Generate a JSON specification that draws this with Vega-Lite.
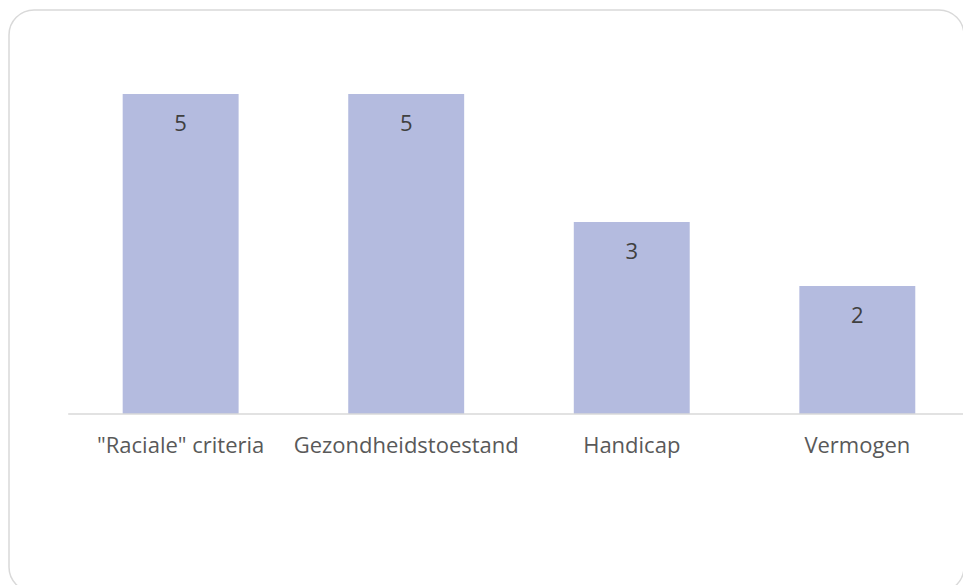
{
  "$schema": "https://vega.github.io/schema/vega-lite/v6.json",
  "width": 955,
  "height": 582,
  "autosize": {"type": "none"},
  "padding": {"left": 9, "top": 10, "right": 0, "bottom": 0},
  "background": "white",
  "config": {
    "view": {"stroke": "#d9d9d9", "strokeWidth": 1.5, "cornerRadius": 25},
    "font": "Open Sans"
  },
  "data": {
    "values": [
      {"categorie": "\"Raciale\" criteria", "aantal": 5},
      {"categorie": "Gezondheidstoestand", "aantal": 5},
      {"categorie": "Handicap", "aantal": 3},
      {"categorie": "Vermogen", "aantal": 2}
    ]
  },
  "encoding": {
    "x": {
      "field": "categorie",
      "type": "nominal",
      "sort": null,
      "scale": {"paddingInner": 0.486, "paddingOuter": 0.36, "align": 0.7},
      "axis": {
        "title": null,
        "domain": false,
        "ticks": false,
        "grid": false,
        "offset": -178,
        "labelPadding": 21,
        "labelAngle": 0,
        "labelFontSize": 22,
        "labelColor": "#595959",
        "labelFont": "Open Sans",
        "labelLimit": 300
      }
    }
  },
  "layer": [
    {
      "mark": {"type": "bar", "color": "#b4bbdf"},
      "encoding": {
        "y": {
          "field": "aantal",
          "type": "quantitative",
          "scale": {"domain": [-2.78, 6.3125], "nice": false, "zero": false},
          "axis": null
        }
      }
    },
    {
      "mark": {"type": "text", "dy": 30, "fontSize": 22, "color": "#404040", "baseline": "middle", "font": "Open Sans"},
      "encoding": {
        "y": {"field": "aantal", "type": "quantitative"},
        "text": {"field": "aantal", "type": "quantitative"}
      }
    },
    {
      "data": {"values": [{"nul": 0, "van": "\"Raciale\" criteria", "tot": "Vermogen"}]},
      "mark": {"type": "rule", "color": "#d9d9d9", "strokeWidth": 1.5},
      "encoding": {
        "x": {"field": "van", "type": "nominal", "bandPosition": -0.47},
        "x2": {"field": "tot", "bandPosition": 1.5},
        "y": {"field": "nul", "type": "quantitative"}
      }
    }
  ]
}
